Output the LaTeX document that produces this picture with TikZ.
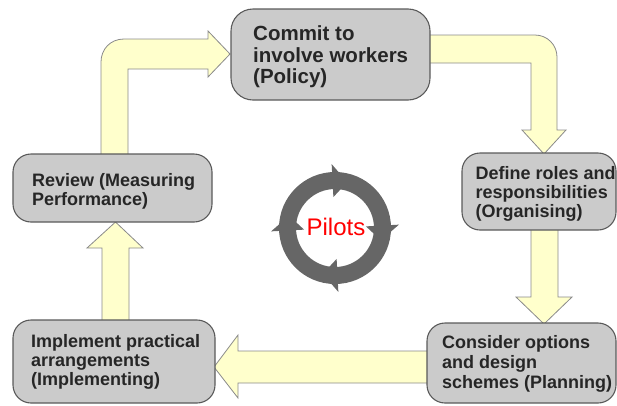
\documentclass[tikz,border=0pt]{standalone}
\usepackage{fontspec}
\setmainfont{Liberation Sans}
\usetikzlibrary{calc}
\definecolor{boxfill}{HTML}{CBCBCB}
\definecolor{boxline}{HTML}{5A5A5A}
\definecolor{arrfill}{HTML}{FFFFCC}
\definecolor{arrline}{HTML}{8A8A8A}
\definecolor{ringgray}{HTML}{666666}
\definecolor{txtcol}{HTML}{262626}
\definecolor{pilotred}{HTML}{FF0000}
\begin{document}
\begin{tikzpicture}[x=1pt,y=-1pt,
  stepbox/.style={draw=boxline, line width=1.1pt, fill=boxfill, rounded corners=18pt, inner sep=0pt, shape=rectangle},
  blockarrow/.style={draw=arrline, line width=0.8pt, fill=arrfill, line join=miter},
  lbl/.style={anchor=west, inner sep=0pt, align=left, text=txtcol, font=\bfseries\fontsize{18}{19.3}\selectfont}]
\useasboundingbox (0,0) rectangle (617,405);
\clip (0,0) rectangle (617,405);

% block arrows (behind the boxes)
\path[blockarrow] (101,156) -- (101,62) .. controls (101,49.3) and (110.3,39) .. (124,39) -- (208,39) -- (208,31) -- (230,54) -- (208,77) -- (208,69) -- (128,69) -- (128,156) -- cycle;
\path[blockarrow] (426,35) -- (535,35) .. controls (547.2,35) and (557,44.8) .. (557,57) -- (557,130) -- (566,130) -- (544,154) -- (522,130) -- (531,130) -- (531,63) -- (426,63) -- cycle;
\path[blockarrow] (531,228) -- (531,297) -- (516,297) -- (544,324) -- (572,297) -- (558,297) -- (558,228) -- cycle;
\path[blockarrow] (430,351) -- (238,351) -- (238,335) -- (214,367) -- (238,398) -- (238,383) -- (430,383) -- cycle;
\path[blockarrow] (102,322) -- (102,248) -- (87,248) -- (115.5,222) -- (143,248) -- (129,248) -- (129,322) -- cycle;

% boxes
\node[stepbox, rounded corners=22pt, minimum width=199pt, minimum height=91pt] (commit) at (330.5,54.5) {};
\node[stepbox, minimum width=154pt, minimum height=77pt] (define) at (539,191.5) {};
\node[stepbox, minimum width=199pt, minimum height=68pt] (review) at (112.5,188) {};
\node[stepbox, minimum width=202pt, minimum height=83pt] (implement) at (114,361.5) {};
\node[stepbox, minimum width=189pt, minimum height=80pt] (consider) at (521.5,363) {};

% texts
\node[lbl, font=\bfseries\fontsize{20.5}{21.3}\selectfont] (committxt) at (253,56.9) {Commit to\\involve workers\\(Policy)};
\node[lbl, font=\bfseries\fontsize{18}{19}\selectfont] (definetxt) at (475.5,193.4) {Define roles and\\responsibilities\\(Organising)};
\node[lbl, font=\bfseries\fontsize{18}{19}\selectfont] (reviewtxt) at (32,191.5) {Review (Measuring\\Performance)};
\node[lbl] (implementtxt) at (31,362) {Implement practical\\arrangements\\(Implementing)};
\node[lbl, font=\bfseries\fontsize{18}{20}\selectfont] (considertxt) at (442,363.7) {Consider options\\and design\\schemes (Planning)};

% pilots ring
\coordinate (c) at (335,228);
\draw[ringgray, line width=17pt] (c) circle (47.5pt);
\foreach \k in {0,1,2,3}{
  \fill[ringgray] ($(c)+(267+90*\k:64)$) -- ($(c)+(285+90*\k:47.5)$) -- ($(c)+(267+90*\k:31)$) -- cycle;
}
\node[inner sep=0pt, text=pilotred, font=\fontsize{24}{28}\selectfont] (pilots) at (336,226.5) {Pilots};
\end{tikzpicture}
\end{document}
